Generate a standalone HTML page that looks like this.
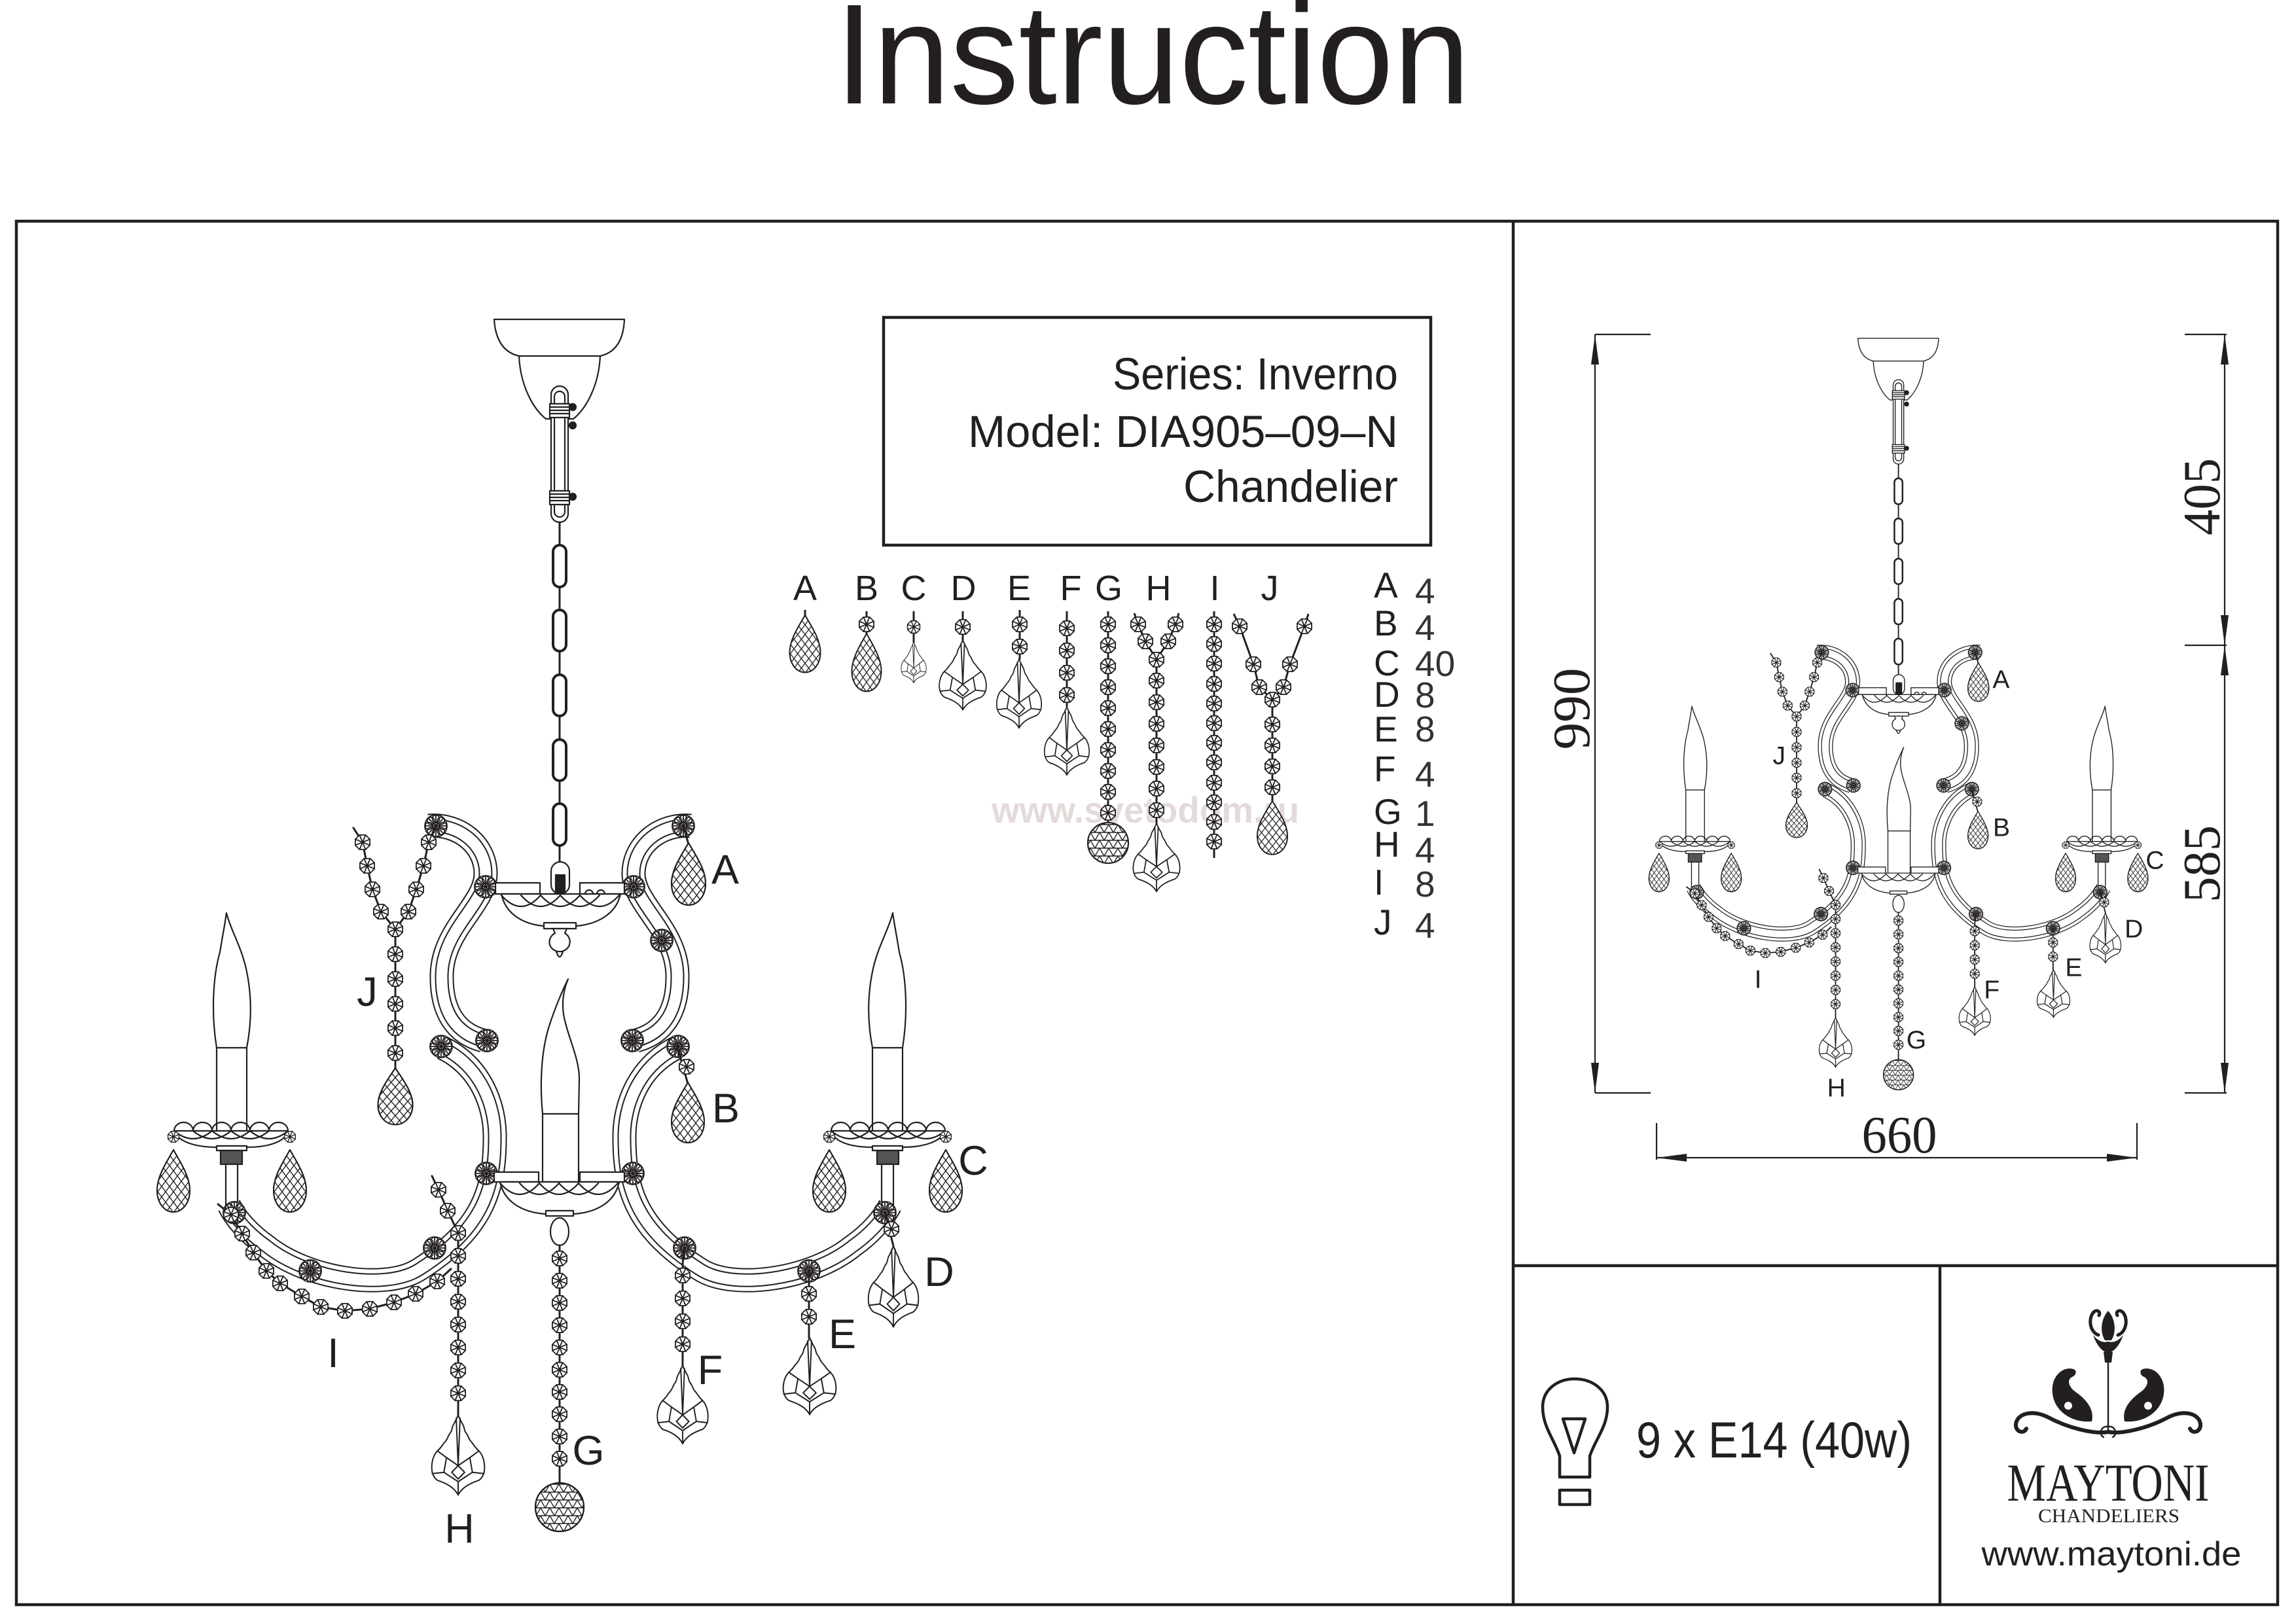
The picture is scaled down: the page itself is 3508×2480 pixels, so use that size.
<!DOCTYPE html>
<html><head><meta charset="utf-8"><style>html,body{margin:0;padding:0;background:#fff}svg{display:block}</style></head>
<body>
<svg xmlns="http://www.w3.org/2000/svg" width="3508" height="2480" viewBox="0 0 3508 2480">
<defs>
  <pattern id="hatch" width="12" height="16" patternUnits="userSpaceOnUse">
    <path d="M0,0 L12,16 M12,0 L0,16" stroke="#231f20" stroke-width="1.4" fill="none"/>
  </pattern>
  <pattern id="tri" width="14" height="12" patternUnits="userSpaceOnUse">
    <path d="M0,0H14 M0,12H14 M0,0L7,12L14,0 M-7,12L0,0 M14,0L21,12" stroke="#231f20" stroke-width="1.4" fill="none"/>
  </pattern>
  <g id="bd" stroke="#231f20" stroke-width="1.8" fill="none">
    <polygon points="11.1,4.6 4.6,11.1 -4.6,11.1 -11.1,4.6 -11.1,-4.6 -4.6,-11.1 4.6,-11.1 11.1,-4.6" fill="#fff"/>
    <path d="M11.1,4.6L-11.1,-4.6M4.6,11.1L-4.6,-11.1M-4.6,11.1L4.6,-11.1M-11.1,4.6L11.1,-4.6"/>
  </g>
  <g id="ros" stroke="#231f20" stroke-width="1.8" fill="none">
    <circle r="17" fill="#fff"/>
    <circle r="5"/>
    <circle cx="0" cy="-11" r="5.5"/><circle cx="7.8" cy="-7.8" r="5.5"/><circle cx="11" cy="0" r="5.5"/><circle cx="7.8" cy="7.8" r="5.5"/>
    <circle cx="0" cy="11" r="5.5"/><circle cx="-7.8" cy="7.8" r="5.5"/><circle cx="-11" cy="0" r="5.5"/><circle cx="-7.8" cy="-7.8" r="5.5"/>
    <path d="M-16,0H16M0,-16V16M-11,-11L11,11M11,-11L-11,11"/>
  </g>
  <g id="br" stroke="#231f20" stroke-width="2">
    <path d="M0,0 C-10,18 -25,40 -25,62 C-25,82 -13,95 0,95 C13,95 25,82 25,62 C25,40 10,18 0,0Z" fill="#fff"/>
    <path d="M0,0 C-10,18 -25,40 -25,62 C-25,82 -13,95 0,95 C13,95 25,82 25,62 C25,40 10,18 0,0Z" fill="url(#hatch)"/>
  </g>
  <g id="pd" stroke="#231f20" stroke-width="2" fill="none" stroke-linejoin="round">
    <path d="M0,0 C-3,8 -6,12 -8,16 C-10,20 -9,24 -13,28 C-16,32 -16,36 -20,40 C-24,44 -25,48 -32,54 C-40,62 -42,76 -40,86 C-38,93 -35,96 -32,98 C-20,102 -6,108 0,120 C6,108 20,102 32,98 C35,96 38,93 40,86 C42,76 40,62 32,54 C25,48 24,44 20,40 C16,36 16,32 13,28 C9,24 10,20 8,16 C6,12 3,8 0,0 Z" fill="#fff"/>
    <path d="M-3,5 L0,76 L3,5 M-32,54 L-18,64 L0,76 L18,64 L32,54 M-18,64 L-22,86 L0,100 L22,86 L18,64 M-40,88 L-22,86 M40,88 L22,86 M0,76 L10,86 L0,96 L-10,86 Z M0,100 V120"/>
  </g>

  <g id="half" fill="none" stroke="#231f20" stroke-width="2.2" stroke-linejoin="round">
    <g stroke-linecap="butt">
      <path d="M655,1262 C700,1258 742,1290 742,1335 C742,1382 676,1420 675,1490 C674,1550 700,1580 738,1590" stroke="#231f20" stroke-width="37"/>
      <path d="M655,1262 C700,1258 742,1290 742,1335 C742,1382 676,1420 675,1490 C674,1550 700,1580 738,1590" stroke="#fff" stroke-width="33"/>
      <path d="M655,1262 C700,1258 742,1290 742,1335 C742,1382 676,1420 675,1490 C674,1550 700,1580 738,1590" stroke="#231f20" stroke-width="21"/>
      <path d="M655,1262 C700,1258 742,1290 742,1335 C742,1382 676,1420 675,1490 C674,1550 700,1580 738,1590" stroke="#fff" stroke-width="17"/>
      <path d="M676,1601 C735,1630 757,1690 756,1740 C756,1820 735,1880 640,1940 C590,1972 470,1955 407,1904 C380,1885 360,1862 350,1842" stroke="#231f20" stroke-width="37"/>
      <path d="M676,1601 C735,1630 757,1690 756,1740 C756,1820 735,1880 640,1940 C590,1972 470,1955 407,1904 C380,1885 360,1862 350,1842" stroke="#fff" stroke-width="33"/>
      <path d="M676,1601 C735,1630 757,1690 756,1740 C756,1820 735,1880 640,1940 C590,1972 470,1955 407,1904 C380,1885 360,1862 350,1842" stroke="#231f20" stroke-width="21"/>
      <path d="M676,1601 C735,1630 757,1690 756,1740 C756,1820 735,1880 640,1940 C590,1972 470,1955 407,1904 C380,1885 360,1862 350,1842" stroke="#fff" stroke-width="17"/>
    </g>
    <use href="#ros" transform="translate(666,1262)"/>
    <use href="#ros" transform="translate(742,1355)"/>
    <use href="#ros" transform="translate(674,1599)"/>
    <use href="#ros" transform="translate(744,1590)"/>
    <use href="#ros" transform="translate(743,1793)"/>
    <use href="#ros" transform="translate(664,1907)"/>
    <use href="#ros" transform="translate(474,1942)"/>
    <path d="M331,1601 C322,1545 326,1490 336,1455 C340,1430 344,1410 346,1395 C352,1420 368,1445 376,1480 C386,1525 384,1565 377,1601" />
    <rect x="331" y="1601" width="46" height="140" fill="#fff"/>
    <path d="M266,1728 C272,1745 300,1753 331,1753 H377 C410,1753 436,1745 440,1728 Z" fill="#fff"/>
    <path d="M266,1728 a14.5,13 0 0 1 29,0 a14.5,13 0 0 1 29,0 a14.5,13 0 0 1 29,0 a14.5,13 0 0 1 29,0 a14.5,13 0 0 1 29,0 a14.5,13 0 0 1 29,0"/>
    <path d="M266,1728 Q295,1752 324,1728 M295,1728 Q324,1752 353,1728 M324,1728 Q353,1752 382,1728 M353,1728 Q382,1752 411,1728 M382,1728 Q411,1752 440,1728"/>
    <rect x="331" y="1751" width="46" height="7" fill="#fff"/>
    <rect x="337" y="1758" width="33" height="21" fill="#555"/>
    <rect x="345" y="1779" width="18" height="63" fill="#fff"/>
    <use href="#ros" transform="translate(358,1853)"/>
    <use href="#bd" transform="translate(265,1737) scale(0.75)"/>
    <use href="#bd" transform="translate(443,1737) scale(0.75)"/>
    <use href="#br" transform="translate(265,1757)"/>
    <use href="#br" transform="translate(443,1757)"/>
  </g>

  <g id="chand" fill="none" stroke="#231f20" stroke-width="2.2" stroke-linejoin="round" stroke-linecap="round">
    <use href="#half"/>
    <use href="#half" transform="matrix(-1,0,0,1,1710,0)"/>
    <use href="#ros" transform="translate(1011,1437)"/>
    <path d="M755,488 H954 Q952,536 917,544 H793 Q758,536 755,488 Z" fill="#fff"/>
    <path d="M793,544 C795,590 815,625 834,640 H876 C895,625 915,590 917,544"/>
    <rect x="842" y="590" width="26" height="208" rx="13" fill="#fff"/>
    <rect x="847" y="598" width="16" height="192" rx="8"/>
    <rect x="840" y="617" width="30" height="21" fill="#fff"/>
    <path d="M840,622H870M840,627H870M840,632H870"/>
    <rect x="840" y="750" width="30" height="21" fill="#fff"/>
    <path d="M840,755H870M840,760H870M840,765H870"/>
    <circle cx="875" cy="622" r="5" fill="#231f20"/>
    <circle cx="875" cy="650" r="5" fill="#231f20"/>
    <circle cx="875" cy="759" r="5" fill="#231f20"/>
    <line x1="855" y1="798" x2="855" y2="1318" stroke-width="3"/>
    <g stroke-width="4" fill="#fff">
      <rect x="845" y="833" width="20" height="64" rx="10"/>
      <rect x="845" y="932" width="20" height="63" rx="10"/>
      <rect x="845" y="1031" width="20" height="63" rx="10"/>
      <rect x="845" y="1130" width="20" height="63" rx="10"/>
      <rect x="845" y="1228" width="20" height="64" rx="10"/>
    </g>
    <rect x="842" y="1317" width="28" height="49" rx="14" fill="#fff"/>
    <rect x="849" y="1337" width="14" height="28" fill="#231f20"/>
    <rect x="757" y="1349" width="68" height="17" fill="#fff"/>
    <rect x="886" y="1349" width="68" height="17" fill="#fff"/>
    <path d="M894,1366 a6,6 0 0 1 12,0 M912,1366 a6,6 0 0 1 12,0"/>
    <path d="M766,1366 H948 C942,1395 915,1412 880,1415 H831 C797,1412 772,1395 766,1366 Z" fill="#fff"/>
    <path d="M766,1368 Q796,1402 826,1368 M796,1368 Q826,1402 856,1368 M826,1368 Q856,1402 886,1368 M856,1368 Q886,1402 916,1368 M886,1368 Q916,1402 946,1368"/>
    <rect x="831" y="1410" width="49" height="9" fill="#fff"/>
    <path d="M845,1419 H866 L863,1426 C874,1432 874,1450 858,1454 H852 C836,1450 836,1432 848,1426 Z" fill="#fff"/>
    <path d="M850,1454 Q855,1470 860,1454"/>
    <path d="M829,1702 C824,1650 828,1600 840,1565 C848,1540 860,1512 868,1496 C860,1515 858,1535 862,1555 C868,1585 886,1620 885,1650 L884,1702"/>
    <rect x="829" y="1702" width="55" height="104" fill="#fff"/>
    <rect x="755" y="1791" width="68" height="15" fill="#fff"/>
    <rect x="886" y="1791" width="68" height="15" fill="#fff"/>
    <path d="M764,1806 H946 C940,1836 913,1852 878,1855 H832 C797,1852 770,1836 764,1806 Z" fill="#fff"/>
    <path d="M764,1808 Q794,1842 824,1808 M794,1808 Q824,1842 854,1808 M824,1808 Q854,1842 884,1808 M854,1808 Q884,1842 914,1808 M884,1808 Q914,1842 944,1808"/>
    <rect x="834" y="1850" width="42" height="8" fill="#fff"/>
    <ellipse cx="855" cy="1882" rx="14" ry="21" fill="#fff"/>
    <line x1="855" y1="1903" x2="855" y2="2266" stroke-width="3"/>
    <use href="#bd" transform="translate(855,1923)"/><use href="#bd" transform="translate(855,1957)"/>
    <use href="#bd" transform="translate(855,1991)"/><use href="#bd" transform="translate(855,2025)"/>
    <use href="#bd" transform="translate(855,2059)"/><use href="#bd" transform="translate(855,2093)"/>
    <use href="#bd" transform="translate(855,2127)"/><use href="#bd" transform="translate(855,2161)"/>
    <use href="#bd" transform="translate(855,2195)"/><use href="#bd" transform="translate(855,2229)"/>
    <circle cx="855" cy="2303" r="37" fill="#fff"/>
    <circle cx="855" cy="2303" r="37" fill="url(#tri)"/>
    <path d="M540,1265 L554,1287 L561,1323 L569,1359 L582,1393 L604,1420 L624,1393 L636,1359 L647,1323 L655,1287 L666,1262 M604,1420 V1632" stroke-width="3"/>
    <use href="#bd" transform="translate(554,1287)"/><use href="#bd" transform="translate(561,1323)"/>
    <use href="#bd" transform="translate(569,1359)"/><use href="#bd" transform="translate(582,1393)"/>
    <use href="#bd" transform="translate(655,1287)"/><use href="#bd" transform="translate(647,1323)"/>
    <use href="#bd" transform="translate(636,1359)"/><use href="#bd" transform="translate(624,1393)"/>
    <use href="#bd" transform="translate(604,1420)"/><use href="#bd" transform="translate(604,1458)"/>
    <use href="#bd" transform="translate(604,1496)"/><use href="#bd" transform="translate(604,1534)"/>
    <use href="#bd" transform="translate(604,1571)"/><use href="#bd" transform="translate(604,1609)"/>
    <use href="#br" transform="translate(604,1632) scale(1.06,0.91)"/>
    <path d="M333,1840 L353,1856 L370,1885 L387,1914 L407,1942 L428,1961 L461,1981 L490,1997 L527,2003 L565,2000 L602,1990 L635,1977 L668,1958 L689,1939" stroke-width="3"/>
    <use href="#bd" transform="translate(353,1856)"/><use href="#bd" transform="translate(370,1885)"/>
    <use href="#bd" transform="translate(387,1914)"/><use href="#bd" transform="translate(407,1942)"/>
    <use href="#bd" transform="translate(428,1961)"/><use href="#bd" transform="translate(461,1981)"/>
    <use href="#bd" transform="translate(490,1997)"/><use href="#bd" transform="translate(527,2003)"/>
    <use href="#bd" transform="translate(565,2000)"/><use href="#bd" transform="translate(602,1990)"/>
    <use href="#bd" transform="translate(635,1977)"/><use href="#bd" transform="translate(668,1958)"/>
    <path d="M660,1797 L670,1818 L684,1850 L700,1884 V2162" stroke-width="3"/>
    <use href="#bd" transform="translate(670,1818)"/><use href="#bd" transform="translate(684,1850)"/>
    <use href="#bd" transform="translate(700,1884)"/><use href="#bd" transform="translate(700,1919)"/>
    <use href="#bd" transform="translate(700,1954)"/><use href="#bd" transform="translate(700,1989)"/>
    <use href="#bd" transform="translate(700,2024)"/><use href="#bd" transform="translate(700,2059)"/>
    <use href="#bd" transform="translate(700,2094)"/><use href="#bd" transform="translate(700,2129)"/>
    <use href="#pd" transform="translate(700,2162) scale(0.99,1.02)"/>
    <path d="M1044,1262 L1052,1290" stroke-width="3"/>
    <use href="#br" transform="translate(1052,1288) scale(1.04,1)"/>
    <path d="M1034,1597 L1051,1656" stroke-width="3"/>
    <use href="#bd" transform="translate(1049,1630)"/>
    <use href="#br" transform="translate(1051,1654) scale(1,0.97)"/>
    <path d="M1352,1853 L1365,1904" stroke-width="3"/>
    <use href="#bd" transform="translate(1362,1878)"/>
    <use href="#pd" transform="translate(1365,1904) scale(0.94,1.03)"/>
    <path d="M1236,1942 V2044" stroke-width="3"/>
    <use href="#bd" transform="translate(1236,1977)"/><use href="#bd" transform="translate(1236,2012)"/>
    <use href="#pd" transform="translate(1237,2044) scale(0.99,0.98)"/>
    <path d="M1046,1907 L1043,1930 V2086" stroke-width="3"/>
    <use href="#bd" transform="translate(1043,1949)"/><use href="#bd" transform="translate(1043,1984)"/>
    <use href="#bd" transform="translate(1043,2019)"/><use href="#bd" transform="translate(1043,2054)"/>
    <use href="#pd" transform="translate(1043,2086) scale(0.95,1)"/>
    <g fill="#231f20" stroke="none" font-family="'Liberation Sans', Arial, sans-serif" font-size="63" text-anchor="middle">
      <text x="1108" y="1350">A</text>
      <text x="1109" y="1715">B</text>
      <text x="1487" y="1795">C</text>
      <text x="1435" y="1965">D</text>
      <text x="1287" y="2060">E</text>
      <text x="1085" y="2115">F</text>
      <text x="899" y="2238">G</text>
      <text x="702" y="2357">H</text>
      <text x="509" y="2089">I</text>
      <text x="561" y="1537">J</text>
    </g>
  </g>
</defs>

<rect width="3508" height="2480" fill="#fff"/>

<text x="1276" y="158" font-family="'Liberation Sans', Arial, sans-serif" font-size="218" textLength="970" lengthAdjust="spacingAndGlyphs" fill="#231f20">Instruction</text>

<g fill="none" stroke="#231f20" stroke-width="4.5">
  <rect x="25" y="338" width="3455" height="2114"/>
  <line x1="2312" y1="338" x2="2312" y2="2452"/>
  <line x1="2312" y1="1934" x2="3480" y2="1934"/>
  <line x1="2964" y1="1934" x2="2964" y2="2452"/>
  <rect x="1350" y="485" width="836" height="348"/>
</g>

<g fill="#231f20" font-family="'Liberation Sans', Arial, sans-serif" font-size="69">
  <text x="1700" y="595" textLength="436" lengthAdjust="spacingAndGlyphs">Series: Inverno</text>
  <text x="1479" y="683" textLength="657" lengthAdjust="spacingAndGlyphs">Model: DIA905–09–N</text>
  <text x="1808" y="767" textLength="328" lengthAdjust="spacingAndGlyphs">Chandelier</text>
</g>

<text x="1515" y="1257" font-family="'Liberation Sans', Arial, sans-serif" font-weight="bold" font-size="56" textLength="470" lengthAdjust="spacingAndGlyphs" fill="#e4dada">www.svetodom.ru</text>

<g fill="#231f20" font-family="'Liberation Sans', Arial, sans-serif" font-size="54" text-anchor="middle">
  <text x="1230" y="917">A</text><text x="1324" y="917">B</text><text x="1396" y="917">C</text>
  <text x="1472" y="917">D</text><text x="1557" y="917">E</text><text x="1636" y="917">F</text>
  <text x="1694" y="917">G</text><text x="1770" y="917">H</text><text x="1856" y="917">I</text>
  <text x="1940" y="917">J</text>
</g>
<g fill="none" stroke="#231f20" stroke-width="3" stroke-linejoin="round">
  <line x1="1230" y1="932" x2="1230" y2="944"/>
  <use href="#br" transform="translate(1230,940) scale(0.94,0.92)"/>
  <line x1="1324" y1="934" x2="1324" y2="970"/>
  <use href="#bd" transform="translate(1324,954)"/>
  <use href="#br" transform="translate(1324,968) scale(0.9,0.93)"/>
  <line x1="1396" y1="934" x2="1396" y2="982"/>
  <use href="#bd" transform="translate(1396,958) scale(0.85)"/>
  <use href="#pd" transform="translate(1396,981) scale(0.47,0.52)"/>
  <line x1="1471" y1="934" x2="1471" y2="980"/>
  <use href="#bd" transform="translate(1471,958)"/>
  <use href="#pd" transform="translate(1471,978) scale(0.88,0.89)"/>
  <line x1="1558" y1="932" x2="1558" y2="1008"/>
  <use href="#bd" transform="translate(1558,954)"/><use href="#bd" transform="translate(1558,988)"/>
  <use href="#pd" transform="translate(1557,1007) scale(0.84,0.88)"/>
  <line x1="1630" y1="934" x2="1630" y2="1080"/>
  <use href="#bd" transform="translate(1630,960)"/><use href="#bd" transform="translate(1630,994)"/>
  <use href="#bd" transform="translate(1630,1028)"/><use href="#bd" transform="translate(1630,1062)"/>
  <use href="#pd" transform="translate(1630,1080) scale(0.84,0.87)"/>
  <line x1="1693" y1="934" x2="1693" y2="1258"/>
  <use href="#bd" transform="translate(1693,954)"/><use href="#bd" transform="translate(1693,986)"/>
  <use href="#bd" transform="translate(1693,1018)"/><use href="#bd" transform="translate(1693,1050)"/>
  <use href="#bd" transform="translate(1693,1082)"/><use href="#bd" transform="translate(1693,1114)"/>
  <use href="#bd" transform="translate(1693,1146)"/><use href="#bd" transform="translate(1693,1178)"/>
  <use href="#bd" transform="translate(1693,1210)"/><use href="#bd" transform="translate(1693,1242)"/>
  <circle cx="1693" cy="1288" r="31" fill="#fff" stroke-width="2"/>
  <circle cx="1693" cy="1288" r="31" fill="url(#tri)" stroke-width="2"/>
  <path d="M1733,937 L1739,954 L1750,980 L1767,1008 L1785,980 L1796,954 L1801,937 M1767,1008 V1260"/>
  <use href="#bd" transform="translate(1739,954)"/><use href="#bd" transform="translate(1750,980)"/>
  <use href="#bd" transform="translate(1796,954)"/><use href="#bd" transform="translate(1785,980)"/>
  <use href="#bd" transform="translate(1767,1008)"/>
  <use href="#bd" transform="translate(1767,1040)"/><use href="#bd" transform="translate(1767,1073)"/>
  <use href="#bd" transform="translate(1767,1106)"/><use href="#bd" transform="translate(1767,1139)"/>
  <use href="#bd" transform="translate(1767,1172)"/><use href="#bd" transform="translate(1767,1205)"/>
  <use href="#bd" transform="translate(1767,1238)"/>
  <use href="#pd" transform="translate(1767,1258) scale(0.875,0.87)"/>
  <line x1="1855" y1="934" x2="1855" y2="1311"/>
  <use href="#bd" transform="translate(1855,954)"/><use href="#bd" transform="translate(1855,984)"/>
  <use href="#bd" transform="translate(1855,1014)"/><use href="#bd" transform="translate(1855,1045)"/>
  <use href="#bd" transform="translate(1855,1075)"/><use href="#bd" transform="translate(1855,1105)"/>
  <use href="#bd" transform="translate(1855,1135)"/><use href="#bd" transform="translate(1855,1165)"/>
  <use href="#bd" transform="translate(1855,1196)"/><use href="#bd" transform="translate(1855,1226)"/>
  <use href="#bd" transform="translate(1855,1256)"/><use href="#bd" transform="translate(1855,1286)"/>
  <path d="M1885,938 L1894,957 L1915,1015 L1924,1050 L1944,1069 L1961,1050 L1971,1015 L1993,957 L1999,938 M1944,1069 V1226"/>
  <use href="#bd" transform="translate(1894,957)"/><use href="#bd" transform="translate(1915,1015)"/>
  <use href="#bd" transform="translate(1924,1050)"/><use href="#bd" transform="translate(1993,957)"/>
  <use href="#bd" transform="translate(1971,1015)"/><use href="#bd" transform="translate(1961,1050)"/>
  <use href="#bd" transform="translate(1944,1069)"/><use href="#bd" transform="translate(1944,1107)"/>
  <use href="#bd" transform="translate(1944,1139)"/><use href="#bd" transform="translate(1944,1171)"/>
  <use href="#bd" transform="translate(1944,1203)"/>
  <use href="#br" transform="translate(1944,1224) scale(0.92,0.86)"/>
</g>

<g fill="#231f20" font-family="'Liberation Sans', Arial, sans-serif" font-size="55">
  <text x="2099" y="913">A</text><text x="2099" y="971">B</text><text x="2099" y="1032">C</text>
  <text x="2099" y="1080">D</text><text x="2099" y="1133">E</text><text x="2099" y="1194">F</text>
  <text x="2099" y="1259">G</text><text x="2099" y="1309">H</text><text x="2099" y="1367">I</text>
  <text x="2099" y="1428">J</text>
</g>
<g fill="#333" font-family="'DejaVu Sans ExtraLight', 'Liberation Sans', Arial, sans-serif" font-weight="200" font-size="55">
  <text x="2162" y="922">4</text><text x="2162" y="978">4</text><text x="2162" y="1033">40</text>
  <text x="2162" y="1081">8</text><text x="2162" y="1133">8</text><text x="2162" y="1202">4</text>
  <text x="2162" y="1262">1</text><text x="2162" y="1318">4</text><text x="2162" y="1370">8</text>
  <text x="2162" y="1433">4</text>
</g>

<use href="#chand"/>
<use href="#chand" transform="translate(2370.5,214.4) scale(0.62)"/>

<g stroke="#231f20" stroke-width="2.2" fill="none">
  <line x1="2437" y1="511" x2="2437" y2="1670"/>
  <line x1="2437" y1="511" x2="2522" y2="511"/>
  <line x1="2437" y1="1670" x2="2522" y2="1670"/>
  <line x1="3399" y1="511" x2="3399" y2="1670"/>
  <line x1="3338" y1="511" x2="3402" y2="511"/>
  <line x1="3338" y1="986" x2="3402" y2="986"/>
  <line x1="3338" y1="1670" x2="3402" y2="1670"/>
  <line x1="2531" y1="1769" x2="3265" y2="1769"/>
  <line x1="2531" y1="1716" x2="2531" y2="1772"/>
  <line x1="3265" y1="1716" x2="3265" y2="1772"/>
</g>
<g fill="#231f20">
  <polygon points="2437,511 2431,557 2443,557"/>
  <polygon points="2437,1670 2431,1624 2443,1624"/>
  <polygon points="3399,511 3393,557 3405,557"/>
  <polygon points="3399,986 3393,940 3405,940"/>
  <polygon points="3399,986 3393,1032 3405,1032"/>
  <polygon points="3399,1670 3393,1624 3405,1624"/>
  <polygon points="2531,1769 2577,1763 2577,1775"/>
  <polygon points="3265,1769 3219,1763 3219,1775"/>
</g>
<g fill="#231f20" font-family="'Liberation Serif', 'Times New Roman', serif" font-size="80" text-anchor="middle">
  <text transform="translate(2428,1083) rotate(-90)" textLength="125" lengthAdjust="spacingAndGlyphs">990</text>
  <text transform="translate(3391,759) rotate(-90)" textLength="118" lengthAdjust="spacingAndGlyphs">405</text>
  <text transform="translate(3391,1320) rotate(-90)" textLength="118" lengthAdjust="spacingAndGlyphs">585</text>
  <text x="2902" y="1761" textLength="115" lengthAdjust="spacingAndGlyphs">660</text>
</g>

<g fill="none" stroke="#231f20" stroke-width="4.5" stroke-linejoin="round">
  <path d="M2383,2257 L2383,2225 C2375,2200 2357,2180 2357,2150 C2357,2123 2380,2107 2406,2107 C2432,2107 2456,2123 2456,2150 C2456,2180 2437,2200 2429,2225 L2429,2257 Z"/>
  <polygon points="2388,2168 2422,2168 2405,2220"/>
  <rect x="2383" y="2277" width="46" height="22"/>
</g>
<text x="2500" y="2227" font-family="'Liberation Sans', Arial, sans-serif" font-size="78" textLength="421" lengthAdjust="spacingAndGlyphs" fill="#231f20">9 x E14 (40w)</text>

<g fill="#231f20" stroke="none">
  <path d="M3221,2003 C3232,2015 3234,2035 3226,2048 L3216,2048 C3208,2035 3210,2015 3221,2003 Z"/>
  <path d="M3198,2040 C3204,2058 3214,2066 3221,2068 C3228,2066 3238,2058 3244,2040 C3236,2050 3228,2052 3221,2050 C3214,2052 3206,2050 3198,2040 Z"/>
  <path d="M3214,2066 H3228 L3226,2082 H3216 Z"/>
  <path d="M3196,2172 C3160,2175 3132,2150 3136,2118 C3139,2098 3155,2088 3168,2092 C3174,2094 3172,2102 3166,2104 C3158,2108 3160,2118 3170,2126 C3190,2140 3200,2155 3196,2172 Z"/>
  <path d="M3246,2172 C3282,2175 3310,2150 3306,2118 C3303,2098 3287,2088 3274,2092 C3268,2094 3270,2102 3276,2104 C3284,2108 3282,2118 3272,2126 C3252,2140 3242,2155 3246,2172 Z"/>
  <circle cx="3160" cy="2148" r="6" fill="#fff"/>
  <circle cx="3282" cy="2148" r="6" fill="#fff"/>
</g>
<g fill="none" stroke="#231f20" stroke-linecap="round">
  <path d="M3206,2040 C3192,2035 3190,2012 3200,2004 C3204,2001 3210,2004 3207,2010" stroke-width="5"/>
  <path d="M3236,2040 C3250,2035 3252,2012 3242,2004 C3238,2001 3232,2004 3235,2010" stroke-width="5"/>
  <line x1="3221" y1="2080" x2="3221" y2="2188" stroke-width="2.5"/>
  <path d="M3221,2188 C3200,2192 3160,2182 3130,2166 C3105,2153 3082,2160 3080,2176 C3079,2188 3092,2192 3096,2183" stroke-width="6"/>
  <path d="M3221,2188 C3242,2192 3282,2182 3312,2166 C3337,2153 3360,2160 3362,2176 C3363,2188 3350,2192 3346,2183" stroke-width="6"/>
  <path d="M3221,2180 C3210,2178 3206,2192 3214,2196 M3221,2180 C3232,2178 3236,2192 3228,2196" stroke-width="2.5"/>
</g>
<g fill="#231f20" text-anchor="middle">
  <text x="3221" y="2293" font-family="'Liberation Serif', 'Times New Roman', serif" font-size="82" textLength="309" lengthAdjust="spacingAndGlyphs">MAYTONI</text>
  <text x="3222" y="2326" font-family="'Liberation Serif', 'Times New Roman', serif" font-size="30" textLength="216" lengthAdjust="spacingAndGlyphs">CHANDELIERS</text>
  <text x="3226" y="2392" font-family="'Liberation Sans', Arial, sans-serif" font-size="52" textLength="397" lengthAdjust="spacingAndGlyphs">www.maytoni.de</text>
</g>
</svg>
</body></html>
